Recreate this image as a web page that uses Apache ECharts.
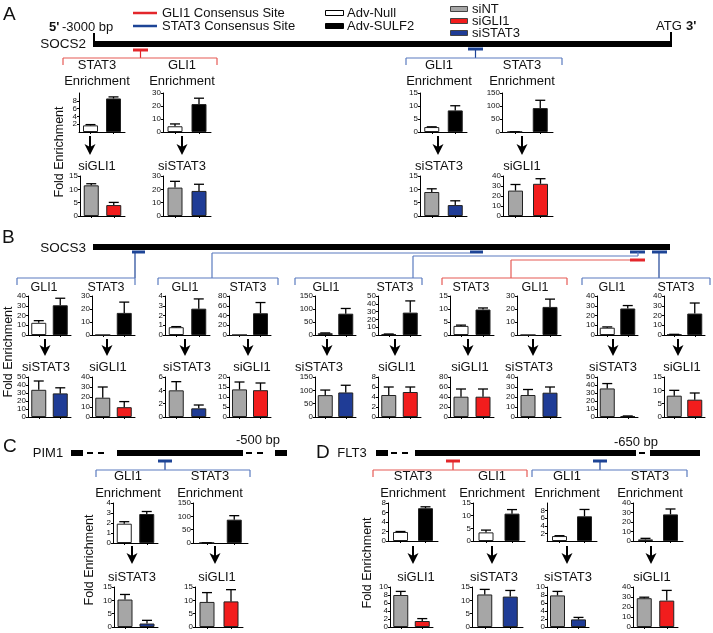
<!DOCTYPE html>
<html>
<head>
<meta charset="utf-8">
<script src="https://cdn.jsdelivr.net/npm/echarts@6/dist/echarts.min.js"></script>
<style>
  html, body { margin: 0; padding: 0; background: #fff; }
  #chart { width: 713px; height: 633px; }
</style>
</head>
<body>
<div id="chart"></div>
<script>
// ---- data ----
// panel A : SOCS2
const aTitles = ['STAT3', 'GLI1', 'GLI1', 'STAT3']
const aEnrich = [[1.7, 8.6], [4.4, 21.5], [1.9, 8.3], [0.6, 92]]
const aEnrichErr = [[0.2, 0.4], [1.8, 4.5], [0.1, 1.8], [0.2, 30]]
const aEnrichMax = [10, 30, 15, 150]
const aEnrichStep = [2, 10, 5, 50]
const aKnockNames = ['siGLI1', 'siSTAT3', 'siSTAT3', 'siGLI1']
const aKnock = [[11.5, 4.1], [21.3, 18.8], [9.0, 4.1], [25.4, 32.2]]
const aKnockErr = [[0.6, 1.0], [4.7, 5.0], [1.2, 1.6], [6.1, 5.1]]
const aKnockMax = [15, 30, 15, 40]
const aKnockStep = [5, 10, 5, 10]

// panel B : SOCS3
const bTitles = ['GLI1', 'STAT3', 'GLI1', 'STAT3', 'GLI1', 'STAT3', 'STAT3', 'GLI1', 'GLI1', 'STAT3']
const bEnrich = [[12.5, 30.5], [0, 17], [0.8, 2.7], [0, 44.6], [7, 82], [1, 28.7], [3.5, 9.8], [0, 21.6], [7.5, 27.2], [0.5, 22]]
const bEnrichErr = [[2.2, 7.2], [0, 8.3], [0.06, 1.0], [0, 22], [1, 20], [0.3, 15], [0.3, 0.6], [0, 6], [0.8, 3], [0.2, 10.8]]
const bEnrichMax = [40, 30, 4, 80, 150, 50, 15, 30, 40, 40]
const bEnrichStep = [10, 10, 1, 20, 50, 10, 5, 10, 10, 10]
const bKnockNames = ['siSTAT3', 'siGLI1', 'siSTAT3', 'siGLI1', 'siSTAT3', 'siGLI1', 'siGLI1', 'siSTAT3', 'siSTAT3', 'siGLI1']
const bKnock = [[34, 29.5], [19.3, 9.8], [4.0, 1.3], [13.8, 13.4], [82, 92], [4.4, 5.0], [40.6, 40.6], [22, 24.3], [35.7, 1], [8, 6.5]]
const bKnockErr = [[11, 7], [10.7, 5.6], [1.3, 0.5], [3.7, 3.6], [19, 27], [1.6, 1.0], [15.4, 15.4], [5.5, 5.7], [6.1, 0.3], [2, 2.5]]
const bKnockMax = [50, 40, 6, 20, 150, 8, 80, 40, 50, 15]
const bKnockStep = [10, 10, 2, 5, 50, 2, 20, 10, 10, 5]

// panel C : PIM1
const cTitles = ['GLI1', 'STAT3']
const cEnrich = [[1.93, 2.9], [0.5, 87.5]]
const cEnrichErr = [[0.2, 0.25], [0.2, 15]]
const cEnrichMax = [4, 150]
const cEnrichStep = [1, 50]
const cKnockNames = ['siSTAT3', 'siGLI1']
const cKnock = [[10.3, 1.3], [9.4, 9.6]]
const cKnockErr = [[1.9, 1.2], [3.5, 4.4]]
const cKnockMax = [15, 15]
const cKnockStep = [5, 5]

// panel D : FLT3
const dTitles = ['STAT3', 'GLI1', 'GLI1', 'STAT3']
const dEnrich = [[1.9, 6.9], [3.4, 10.8], [1.3, 6.5], [1.7, 28]]
const dEnrichErr = [[0.1, 0.3], [0.9, 1.6], [0.1, 1.8], [1.1, 5.7]]
const dEnrichMax = [8, 15, 10, 40]
const dEnrichStep = [2, 5, 2, 10]
const dKnockNames = ['siGLI1', 'siSTAT3', 'siSTAT3', 'siGLI1']
const dKnock = [[8.0, 1.5], [12.2, 11.4], [7.9, 1.9], [28.8, 26.4]]
const dKnockErr = [[0.9, 0.6], [1.9, 2.3], [1.0, 0.5], [1.0, 10.2]]
const dKnockMax = [10, 15, 10, 40]
const dKnockStep = [2, 5, 2, 10]

// ---- colours ----
const WHITE = '#ffffff'
const BLACK = '#000000'
const GRAY = '#a6a6a6'
const RED = '#f21d1d'
const BLUE = '#1f3c96'
const SITE_RED = '#e3262b'
const SITE_BLUE = '#1d4496'
const BR_RED = '#e65a55'
const BR_BLUE = '#5a7bbf'
const FONT = '"Liberation Sans", Arial, Helvetica, sans-serif'

// ---- layout (left, top, width, height) ----
const aTopBoxes = [[79, 93, 46, 39], [163, 93, 48, 39], [420, 93, 47, 39], [502, 93, 51, 39]]
const aBotBoxes = [[80, 176, 45, 40], [163, 176, 48, 40], [420, 176, 47, 40], [503, 176, 50, 40]]
const aCenters = [97, 182, 439, 522]
const aArrows = [90, 182, 438, 522]

const bLefts = [28, 92, 165, 229, 315, 378, 450, 517, 597, 664]
const bWidths = [43, 43, 45, 42, 41, 43, 44, 44, 41, 41]
const bTitleX = [44, 106, 185, 248, 326, 395, 471, 535, 612, 676]
const bKnockX = [46, 108, 187, 252, 319, 397, 470, 529, 613, 682]
const bArrows = [45, 107, 185, 248, 327, 395, 468, 533, 613, 678]

const cTopBoxes = [[113, 503, 45, 40], [193, 503, 55, 40]]
const cBotBoxes = [[114, 587, 44, 40], [195, 587, 48, 40]]
const cCenters = [128, 210]
const cKnockX = [132, 217]
const cArrows = [132, 215]

const dTopBoxes = [[388, 503, 50, 38], [473, 503, 52, 38], [547, 503, 50, 38], [633, 503, 50, 38]]
const dBotBoxes = [[390, 587, 43, 40], [472, 587, 51, 40], [547, 587, 42, 40], [633, 587, 45, 40]]
const dCenters = [413, 492, 567, 650]
const dKnockX = [416, 494, 568, 652]
const dArrows = [413, 492, 567, 651]

const option = {
  animation: false,
  backgroundColor: '#fff',
  textStyle: { fontFamily: FONT },
  grid: [],
  xAxis: [],
  yAxis: [],
  series: [],
  graphic: { elements: [] }
}
const G = option.graphic.elements

function renderErr(params, api) {
  const e = api.value(2)
  if (!e) return null
  const v = api.value(1)
  const p0 = api.coord([api.value(0), v])
  const p1 = api.coord([api.value(0), v + e])
  const st = { stroke: '#000', lineWidth: 1.3 }
  return {
    type: 'group',
    children: [
      { type: 'line', shape: { x1: p0[0], y1: p0[1], x2: p1[0], y2: p1[1] }, style: st },
      { type: 'line', shape: { x1: p1[0] - 5, y1: p1[1], x2: p1[0] + 5, y2: p1[1] }, style: st }
    ]
  }
}

function addChart(box, vals, errs, max, step, colors) {
  const i = option.grid.length
  option.grid.push({ left: box[0], top: box[1], width: box[2], height: box[3], outerBoundsMode: 'none' })
  option.xAxis.push({
    type: 'category', gridIndex: i, data: ['a', 'b'],
    axisLabel: { show: false },
    axisTick: { show: true, alignWithLabel: true, length: 2, lineStyle: { color: '#000' } },
    axisLine: { show: true, lineStyle: { color: '#000', width: 1 } }
  })
  option.yAxis.push({
    type: 'value', gridIndex: i, min: 0, max: max, interval: step,
    splitLine: { show: false },
    axisLine: { show: true, lineStyle: { color: '#000', width: 1 } },
    axisTick: { show: true, length: 2, lineStyle: { color: '#000' } },
    axisLabel: { fontSize: 8, margin: 2, color: '#111', fontFamily: FONT }
  })
  option.series.push({
    type: 'bar', xAxisIndex: i, yAxisIndex: i, barWidth: 15,
    itemStyle: { borderColor: '#222', borderWidth: 1 },
    data: vals.map((v, k) => ({ value: v, itemStyle: { color: colors[k] } }))
  })
  option.series.push({
    type: 'custom', xAxisIndex: i, yAxisIndex: i, renderItem: renderErr, clip: false, z: 3,
    data: vals.map((v, k) => [k, v, errs[k]])
  })
}

// graphic helpers
function line(x1, y1, x2, y2, color, w) {
  G.push({ type: 'line', silent: true, shape: { x1, y1, x2, y2 }, style: { stroke: color, lineWidth: w || 1 } })
}
function rect(x, y, w, h, fill, stroke) {
  G.push({ type: 'rect', silent: true, shape: { x, y, width: w, height: h },
    style: { fill, stroke: stroke || null, lineWidth: stroke ? 1 : 0 } })
}
function text(str, x, y, size, align, opt) {
  opt = opt || {}
  G.push({
    type: 'text', silent: true, x, y, rotation: opt.rot || 0,
    style: {
      text: str, fill: '#111', fontSize: size, fontFamily: FONT, fontWeight: opt.bold ? 'bold' : 'normal',
      align: align || 'center', verticalAlign: 'middle', textAlign: align || 'center', textVerticalAlign: 'middle'
    }
  })
}
function arrow(x, y1, y2) {
  line(x, y1, x, y2 - 7, '#000', 2)
  G.push({ type: 'polygon', silent: true,
    shape: { points: [[x, y2], [x - 5.5, y2 - 11], [x, y2 - 8], [x + 5.5, y2 - 11]] },
    style: { fill: '#000' } })
}
function bracket(x1, x2, y, color) {
  line(x1, y, x2, y, color, 1.2)
  line(x1, y, x1, y + 7, color, 1.2)
  line(x2, y, x2, y + 7, color, 1.2)
}
function dashes(x1, x2, y) {
  for (let x = x1; x + 6 <= x2; x += 11) line(x, y, x + 6, y, '#000', 2)
}

// ---- panel A ----
text('A', 3, 15, 19, 'left')
line(133, 13, 157, 13, SITE_RED, 2.5)
line(133, 26, 157, 26, SITE_BLUE, 2.5)
text('GLI1 Consensus Site', 162, 13, 13, 'left')
text('STAT3 Consensus Site', 162, 26, 13, 'left')
rect(325.5, 10.5, 18, 5, WHITE, '#000')
rect(325.5, 23.5, 18, 5, BLACK, '#000')
text('Adv-Null', 347, 13, 13, 'left')
text('Adv-SULF2', 347, 26, 13, 'left')
rect(450.5, 6.5, 17, 5, GRAY, '#444')
rect(450.5, 18.5, 17, 5, RED, '#444')
rect(450.5, 30.5, 17, 5, BLUE, '#444')
text('siNT', 472, 9, 13, 'left')
text('siGLI1', 472, 21, 13, 'left')
text('siSTAT3', 472, 33, 13, 'left')
text("5'", 49, 27, 13, 'left', { bold: true })
text('-3000 bp', 62, 27, 13, 'left')
text('ATG', 656, 26, 13, 'left')
text("3'", 686, 26, 13, 'left', { bold: true })
text('SOCS2', 86, 44, 13.5, 'right')
rect(93, 41, 579, 6, BLACK)
line(94, 33, 94, 44, '#000', 2)
line(671, 32, 671, 44, '#000', 2)
line(133, 50, 148, 50, SITE_RED, 3)
line(140.5, 50, 140.5, 58, SITE_RED, 1.2)
bracket(63, 217, 58, BR_RED)
line(468, 49, 483, 49, SITE_BLUE, 3)
line(475.5, 49, 475.5, 58, SITE_BLUE, 1.2)
bracket(406, 562, 58, BR_BLUE)
text('Fold Enrichment', 60, 152, 12.5, 'center', { rot: Math.PI / 2 })

for (let k = 0; k < 4; k++) {
  text(aTitles[k], aCenters[k], 65, 13)
  text('Enrichment', aCenters[k], 81, 13)
  addChart(aTopBoxes[k], aEnrich[k], aEnrichErr[k], aEnrichMax[k], aEnrichStep[k], [WHITE, BLACK])
  arrow(aArrows[k], 136, 155)
  text(aKnockNames[k], aCenters[k], 166, 13)
  addChart(aBotBoxes[k], aKnock[k], aKnockErr[k], aKnockMax[k], aKnockStep[k],
    [GRAY, aKnockNames[k] === 'siGLI1' ? RED : BLUE])
}

// ---- panel B ----
text('B', 2, 238, 19, 'left')
text('SOCS3', 86, 248, 13.5, 'right')
rect(93, 244, 577, 6, BLACK)
line(132, 252, 145, 252, SITE_BLUE, 3)
line(470, 252, 483, 252, SITE_BLUE, 3)
line(630, 252, 645, 252, SITE_BLUE, 3)
line(652, 252, 667, 252, SITE_BLUE, 3)
line(630, 260, 645, 260, SITE_RED, 3)
line(135, 252, 135, 278, SITE_BLUE, 1.2)
bracket(17, 135, 278, BR_BLUE)
line(212, 253, 212, 278, BR_BLUE, 1.2)
line(212, 253, 470, 253, BR_BLUE, 1.2)
bracket(158, 278, 278, BR_BLUE)
line(413, 256, 413, 278, BR_BLUE, 1.2)
line(413, 256, 638, 256, BR_BLUE, 1.2)
line(638, 252, 638, 256, BR_BLUE, 1.2)
bracket(295, 422, 278, BR_BLUE)
line(511, 260, 511, 278, BR_RED, 1.2)
line(511, 260, 630, 260, BR_RED, 1.2)
bracket(442, 567, 278, BR_RED)
line(659, 252, 659, 278, SITE_BLUE, 1.2)
bracket(582, 710, 278, BR_BLUE)
text('Fold Enrichment', 9, 352, 12.5, 'center', { rot: Math.PI / 2 })

for (let k = 0; k < 10; k++) {
  text(bTitles[k], bTitleX[k], 288, 12.5)
  addChart([bLefts[k], 296, bWidths[k], 39], bEnrich[k], bEnrichErr[k], bEnrichMax[k], bEnrichStep[k], [WHITE, BLACK])
  arrow(bArrows[k], 339, 356)
  text(bKnockNames[k], bKnockX[k], 367, 13)
  addChart([bLefts[k], 377, bWidths[k], 40], bKnock[k], bKnockErr[k], bKnockMax[k], bKnockStep[k],
    [GRAY, bKnockNames[k] === 'siGLI1' ? RED : BLUE])
}

// ---- panel C ----
text('C', 3, 447, 19, 'left')
text('PIM1', 48, 453, 13, 'center')
rect(71, 450, 12, 6, BLACK)
dashes(87, 114, 453)
rect(117, 450, 126, 6, BLACK)
dashes(246, 273, 453)
rect(275, 450, 12, 6, BLACK)
text('-500 bp', 258, 440, 13, 'center')
line(158, 461, 172, 461, SITE_BLUE, 3)
line(165, 461, 165, 470, SITE_BLUE, 1.2)
bracket(96, 250, 470, BR_BLUE)
text('Fold Enrichment', 90, 560, 12.5, 'center', { rot: Math.PI / 2 })

for (let k = 0; k < 2; k++) {
  text(cTitles[k], cCenters[k], 476, 13)
  text('Enrichment', cCenters[k], 493, 13)
  addChart(cTopBoxes[k], cEnrich[k], cEnrichErr[k], cEnrichMax[k], cEnrichStep[k], [WHITE, BLACK])
  arrow(cArrows[k], 546, 564)
  text(cKnockNames[k], cKnockX[k], 577, 13)
  addChart(cBotBoxes[k], cKnock[k], cKnockErr[k], cKnockMax[k], cKnockStep[k],
    [GRAY, cKnockNames[k] === 'siGLI1' ? RED : BLUE])
}

// ---- panel D ----
text('D', 316, 453, 19, 'left')
text('FLT3', 352, 453, 13, 'center')
rect(376, 450, 12, 6, BLACK)
dashes(391, 413, 453)
rect(415, 450, 221, 6, BLACK)
dashes(639, 647, 453)
rect(650, 450, 50, 6, BLACK)
text('-650 bp', 636, 442, 13, 'center')
line(446, 461, 460, 461, SITE_RED, 3)
line(453, 461, 453, 470, SITE_RED, 1.2)
bracket(373, 527, 470, BR_RED)
line(593, 461, 607, 461, SITE_BLUE, 3)
line(600, 461, 600, 470, SITE_BLUE, 1.2)
bracket(532, 687, 470, BR_BLUE)
text('Fold Enrichment', 368, 563, 12.5, 'center', { rot: Math.PI / 2 })

for (let k = 0; k < 4; k++) {
  text(dTitles[k], dCenters[k], 476, 13)
  text('Enrichment', dCenters[k], 493, 13)
  addChart(dTopBoxes[k], dEnrich[k], dEnrichErr[k], dEnrichMax[k], dEnrichStep[k], [WHITE, BLACK])
  arrow(dArrows[k], 546, 564)
  text(dKnockNames[k], dKnockX[k], 577, 13)
  addChart(dBotBoxes[k], dKnock[k], dKnockErr[k], dKnockMax[k], dKnockStep[k],
    [GRAY, dKnockNames[k] === 'siGLI1' ? RED : BLUE])
}

const chart = echarts.init(document.getElementById('chart'), null, { renderer: 'canvas' })
chart.setOption(option)
</script>
</body>
</html>
